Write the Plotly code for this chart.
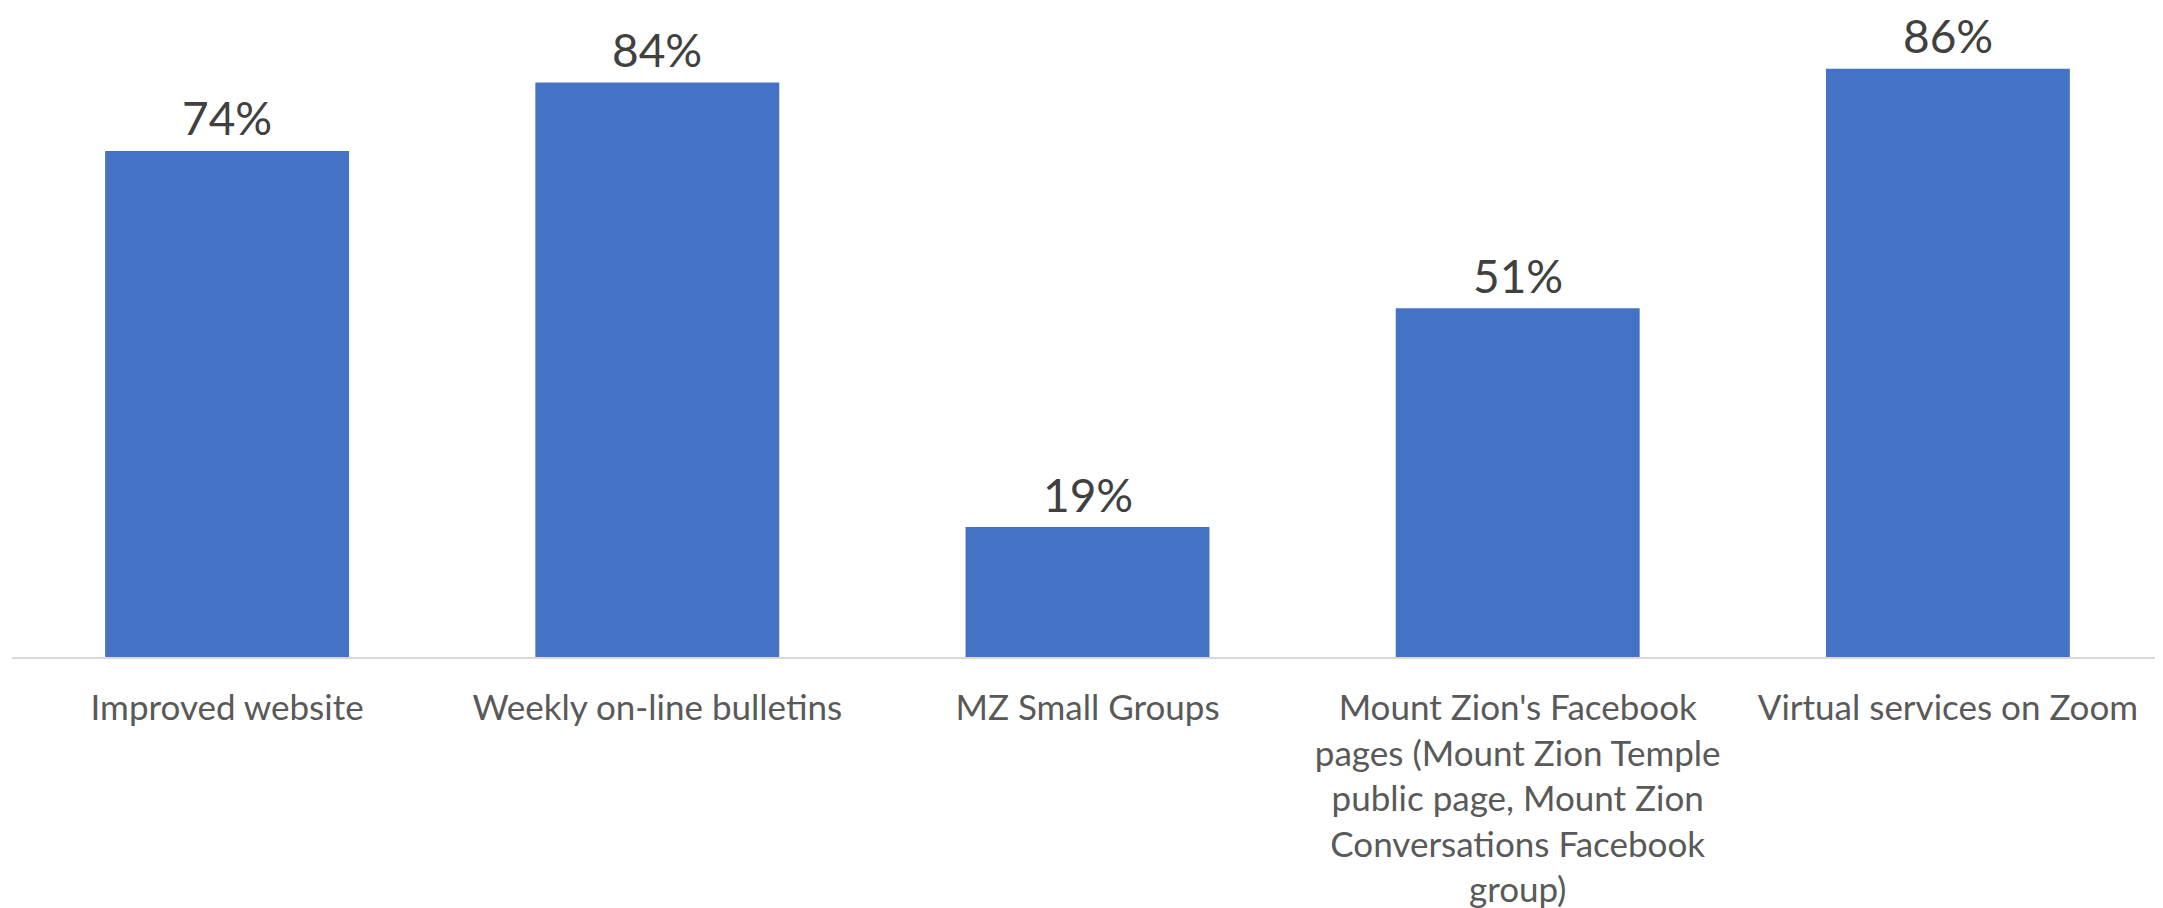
import textwrap
import plotly.graph_objects as go

categories = [
    "Improved website",
    "Weekly on-line bulletins",
    "MZ Small Groups",
    "Mount Zion's Facebook pages (Mount Zion Temple public page, Mount Zion Conversations Facebook group)",
    "Virtual services on Zoom",
]
values = [0.74, 0.84, 0.19, 0.51, 0.86]
value_labels = ["74%", "84%", "19%", "51%", "86%"]

wrapped = ["<br>".join(textwrap.wrap(c, width=26, break_on_hyphens=False)) for c in categories]

fig = go.Figure(
    go.Bar(
        x=wrapped,
        y=values,
        marker=dict(color="#4472C4", line=dict(width=0)),
        hoverinfo="x+y",
    )
)

for xc, yv, lab in zip(wrapped, values, value_labels):
    fig.add_annotation(
        x=xc, y=yv, text=lab, showarrow=False,
        yanchor="middle", xanchor="center", yshift=33, borderpad=0,
        font=dict(size=46, color="#404040", family="Lato"),
    )

fig.update_layout(
    width=2163,
    height=908,
    margin=dict(l=4, r=8, t=0, b=259),
    paper_bgcolor="white",
    plot_bgcolor="white",
    bargap=0.433,
    showlegend=False,
    font=dict(family="Lato", color="#595959"),
)
fig.update_xaxes(
    range=[-0.5, 4.5],
    showline=True,
    linecolor="#D9D9D9",
    linewidth=2,
    showgrid=False,
    ticks="",
    tickfont=dict(size=35, color="#595959", family="Lato"),
    ticklabelstandoff=19,
    tickangle=0,
)
fig.update_yaxes(range=[0, 0.949], visible=False, showgrid=False)

fig.write_html("out.html")
